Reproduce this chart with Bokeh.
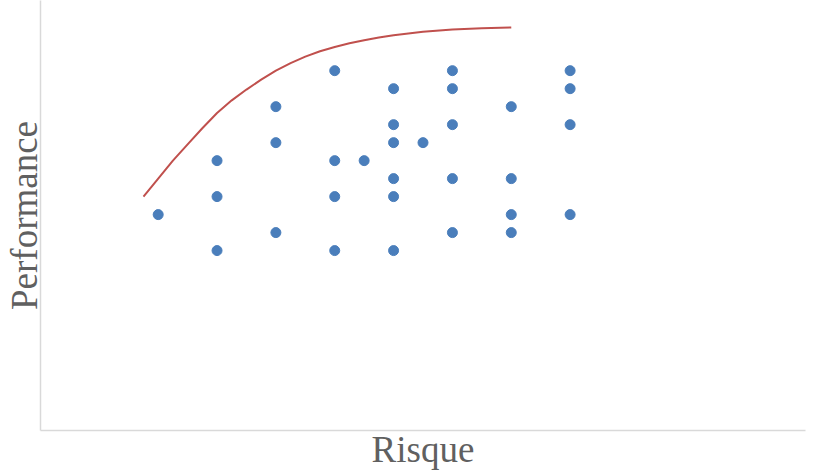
from bokeh.plotting import figure
from bokeh.models import Range1d, FixedTicker
from bokeh.embed import file_html
from bokeh.resources import INLINE

# Scatter points (risk, performance)
risk = [5, 7, 9,
        6, 7, 9,
        4, 8,
        6, 7, 9,
        4, 6, 6.5,
        3, 5, 5.5,
        6, 7, 8,
        3, 5, 6,
        2, 8, 9,
        4, 7, 8,
        3, 5, 6]
perf = [20, 20, 20,
        19, 19, 19,
        18, 18,
        17, 17, 17,
        16, 16, 16,
        15, 15, 15,
        14, 14, 14,
        13, 13, 13,
        12, 12, 12,
        11, 11, 11,
        10, 10, 10]

# Efficient frontier curve
frontier_x = [1.75, 2.0, 2.25, 2.5, 2.75, 3.0, 3.25, 3.5, 3.75, 4.0, 4.25, 4.5, 4.75,
              5.0, 5.25, 5.5, 5.75, 6.0, 6.5, 7.0, 7.5, 8.0]
frontier_y = [13.0, 14.0, 15.0, 15.9, 16.8, 17.65, 18.35, 18.95, 19.5, 20.0, 20.42, 20.78, 21.08,
              21.32, 21.52, 21.69, 21.84, 21.97, 22.16, 22.29, 22.36, 22.4]

x_label = "Risque"
y_label = "Performance"

p = figure(width=818, height=472, output_backend="svg", toolbar_location=None,
           x_range=Range1d(0, 13), y_range=Range1d(0, 23.9),
           min_border_left=0, min_border_right=13, min_border_top=0, min_border_bottom=0)

p.line(frontier_x, frontier_y, line_color="#c0504d", line_width=2, line_join="round")
p.scatter(risk, perf, size=10, fill_color="#4a7ebb", line_color="#4a7ebb")

p.xgrid.visible = False
p.ygrid.visible = False
p.outline_line_color = None

for ax in (p.xaxis[0], p.yaxis[0]):
    ax.ticker = FixedTicker(ticks=[])
    ax.major_tick_line_color = None
    ax.minor_tick_line_color = None
    ax.major_tick_out = 0
    ax.major_tick_in = 0
    ax.minor_tick_out = 0
    ax.major_label_standoff = 0
    ax.major_label_text_font_size = "0px"
    ax.axis_line_color = "#d9d9d9"
    ax.axis_line_width = 1.5
    ax.axis_label_text_font = "Liberation Serif"
    ax.axis_label_text_font_size = "37px"
    ax.axis_label_text_font_style = "normal"
    ax.axis_label_text_color = "#606060"
    ax.axis_label_text_line_height = 1.0

p.xaxis.axis_label = x_label
p.yaxis.axis_label = y_label
p.xaxis.axis_label_standoff = -2
p.yaxis.axis_label_standoff = -4

open("out.html", "w").write(file_html(p, INLINE))
